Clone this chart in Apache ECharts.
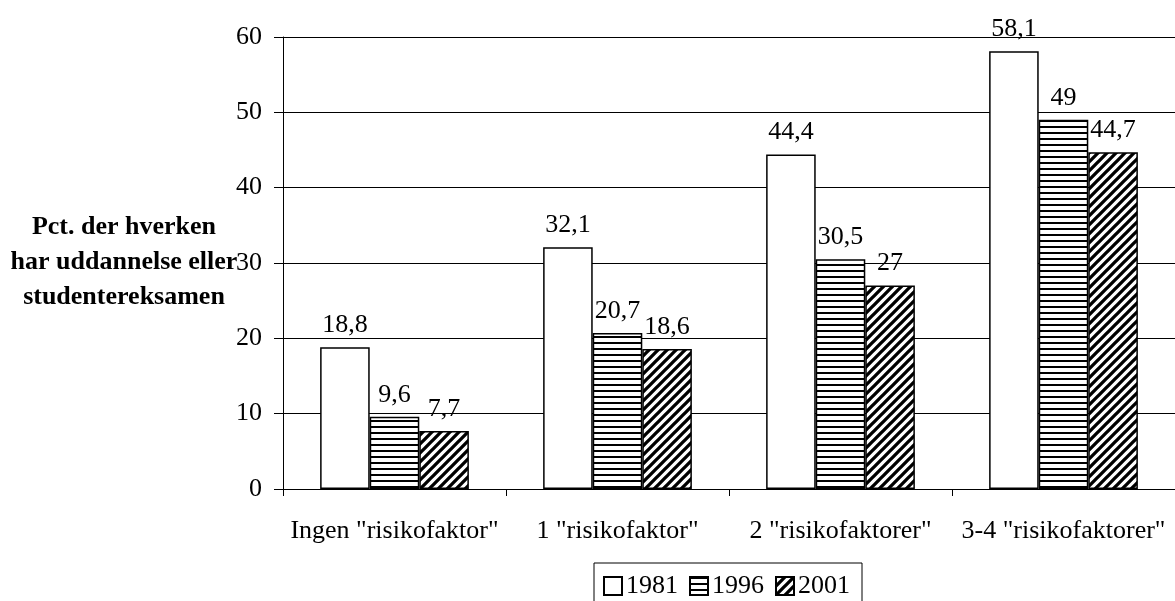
<!DOCTYPE html>
<html>
<head>
<meta charset="utf-8">
<script src="https://cdn.jsdelivr.net/npm/echarts@6/dist/echarts.min.js"></script>
<style>
  html, body { margin: 0; padding: 0; background: #fff; }
  #chart { width: 1175px; height: 601px; }
</style>
</head>
<body>
<div id="chart"></div>
<script>
// kategorier og værdier
const categories = ['Ingen "risikofaktor"', '1 "risikofaktor"', '2 "risikofaktorer"', '3-4 "risikofaktorer"']
const years = ['1981', '1996', '2001']
const values1981 = [18.8, 32.1, 44.4, 58.1]
const values1996 = [9.6, 20.7, 30.5, 49]
const values2001 = [7.7, 18.6, 27, 44.7]
const yTicks = { min: 0, max: 60, interval: 10 }
const yName = ['Pct. der hverken', 'har uddannelse eller', 'studentereksamen']

const FONT = 'Liberation Serif'
const FS = 26

// vandrette streger
function hStripes() {
    const c = document.createElement('canvas')
    c.width = 6
    c.height = 6
    const ctx = c.getContext('2d')
    ctx.fillStyle = '#fff'
    ctx.fillRect(0, 0, 6, 6)
    ctx.fillStyle = '#000'
    ctx.fillRect(0, 0, 6, 2)
    return c
}

// skrå streger "/"
function diagStripes() {
    const s = 9
    const c = document.createElement('canvas')
    c.width = s
    c.height = s
    const ctx = c.getContext('2d')
    ctx.fillStyle = '#fff'
    ctx.fillRect(0, 0, s, s)
    ctx.strokeStyle = '#000'
    ctx.lineWidth = 3.3
    ctx.beginPath()
    ctx.moveTo(-2, 2); ctx.lineTo(2, -2)
    ctx.moveTo(0, s); ctx.lineTo(s, 0)
    ctx.moveTo(s - 2, s + 2); ctx.lineTo(s + 2, s - 2)
    ctx.stroke()
    return c
}

const fills = [
    '#fff',
    { image: hStripes(), repeat: 'repeat' },
    { image: diagStripes(), repeat: 'repeat' }
]
const seriesValues = [values1981, values1996, values2001]

const chart = echarts.init(document.getElementById('chart'))

const option = {
    animation: false,
    backgroundColor: '#fff',
    textStyle: { fontFamily: FONT },
    grid: {
        left: 283,
        top: 37,
        width: 900,
        height: 452
    },
    legend: {
        data: years,
        left: 594,
        top: 563,
        icon: 'rect',
        padding: [10, 12, 20, 9],
        itemWidth: 18,
        itemHeight: 18,
        itemGap: 11,
        selectedMode: false,
        borderColor: '#000',
        borderWidth: 1,
        backgroundColor: '#fff',
        textStyle: { fontFamily: FONT, fontSize: FS, color: '#000', padding: [0, 0, 0, -1] }
    },
    graphic: [{
        type: 'text',
        x: 124,
        y: 262,
        style: {
            text: yName.join('\n'),
            font: 'bold ' + FS + 'px "Liberation Serif"',
            fill: '#000',
            align: 'center',
            verticalAlign: 'middle',
            lineHeight: 35
        }
    }],
    xAxis: {
        type: 'category',
        data: categories,
        axisLine: { lineStyle: { color: '#000', width: 1 } },
        axisTick: { show: true, length: 7, lineStyle: { color: '#000' } },
        axisLabel: { fontFamily: FONT, fontSize: FS, color: '#000', margin: 29, interval: 0 }
    },
    yAxis: {
        type: 'value',
        min: yTicks.min,
        max: yTicks.max,
        interval: yTicks.interval,
        axisLine: { show: true, lineStyle: { color: '#000', width: 1 } },
        axisTick: { show: true, length: 9, lineStyle: { color: '#000' } },
        axisLabel: { fontFamily: FONT, fontSize: FS, color: '#000', margin: 21 },
        splitLine: { show: true, lineStyle: { color: '#000', width: 1 } }
    },
    series: years.map((y, i) => ({
        type: 'bar',
        name: y,
        data: seriesValues[i],
        barGap: 0,
        barCategoryGap: '33.3%',
        itemStyle: {
            color: fills[i],
            borderColor: '#000',
            borderWidth: 1.5
        },
        label: {
            show: true,
            position: 'top',
            distance: 9,
            fontFamily: FONT,
            fontSize: FS,
            color: '#000',
            formatter: (p) => String(p.value).replace('.', ',')
        }
    }))
}

chart.setOption(option)
</script>
</body>
</html>
